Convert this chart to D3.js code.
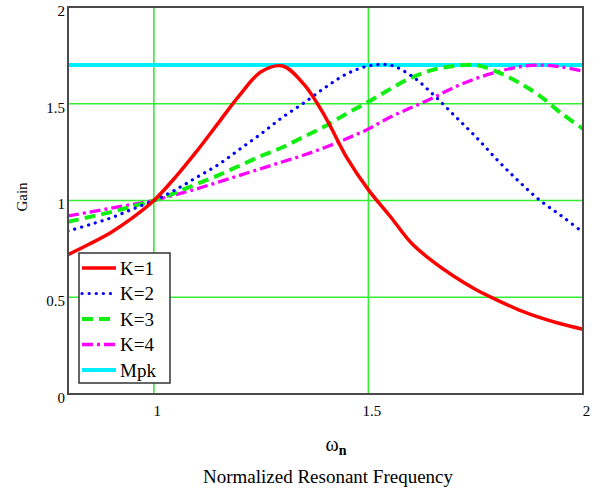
<!DOCTYPE html>
<html>
<head>
<meta charset="utf-8">
<script src="https://cdn.jsdelivr.net/npm/d3@7"></script>
<style>
    body { margin: 0; background: #fff; }
    text { font-family: "Liberation Serif", "Times New Roman", serif; fill: #000; }
</style>
</head>
<body>
<svg width="600" height="489"></svg>
<script>
// frequency samples (normalized)
var wn = [0.8, 0.85, 0.9, 0.95, 1.0, 1.05, 1.1, 1.15, 1.2, 1.25, 1.3, 1.35, 1.4, 1.45, 1.5,
          1.55, 1.6, 1.65, 1.7, 1.75, 1.8, 1.85, 1.9, 1.95, 2.0];

// gain
var k1 = [0.72, 0.775, 0.835, 0.91, 1.0, 1.12, 1.255, 1.40, 1.545, 1.665, 1.695, 1.60, 1.43, 1.22, 1.055,
          0.92, 0.78, 0.685, 0.607, 0.54, 0.485, 0.435, 0.395, 0.362, 0.335];
var k2 = [0.842, 0.875, 0.91, 0.955, 1.0, 1.055, 1.12, 1.185, 1.265, 1.345, 1.43, 1.505, 1.585, 1.655, 1.695,
          1.70, 1.645, 1.55, 1.44, 1.33, 1.21, 1.10, 1.0, 0.92, 0.835];
var k3 = [0.89, 0.915, 0.94, 0.97, 1.0, 1.04, 1.085, 1.13, 1.18, 1.23, 1.275, 1.33, 1.385, 1.45, 1.51,
          1.575, 1.635, 1.675, 1.695, 1.70, 1.665, 1.61, 1.54, 1.45, 1.37];
var k4 = [0.92, 0.94, 0.96, 0.98, 1.0, 1.03, 1.06, 1.095, 1.13, 1.165, 1.2, 1.235, 1.275, 1.32, 1.37,
          1.43, 1.48, 1.53, 1.585, 1.63, 1.665, 1.69, 1.70, 1.69, 1.668];
var mpk = 1.7;

var xTicks = [1, 1.5, 2];
var yTicks = [0, 0.5, 1, 1.5, 2];
var legendNames = ["K=1", "K=2", "K=3", "K=4", "Mpk"];

var serif = "'Liberation Serif', 'Times New Roman', serif";

var svg = d3.select("svg"),
    margin = {top: 7, right: 17, bottom: 95, left: 68},
    width = +svg.attr("width") - margin.left - margin.right,
    height = +svg.attr("height") - margin.top - margin.bottom;

var x = d3.scaleLinear().domain([0.8, 2]).range([0, width]);
var y = d3.scaleLinear().domain([0, 2]).range([height, 0]);

var g = svg.append("g")
    .attr("transform", "translate(" + margin.left + "," + margin.top + ")");

// green grid
g.append("g")
    .selectAll("line.vg")
    .data([1, 1.5])
    .enter().append("line")
    .attr("x1", function (d) { return x(d); })
    .attr("x2", function (d) { return x(d); })
    .attr("y1", 0).attr("y2", height)
    .attr("stroke", "#33ee33").attr("stroke-width", 1.6);

g.append("g")
    .selectAll("line.hg")
    .data([0.5, 1, 1.5])
    .enter().append("line")
    .attr("y1", function (d) { return y(d); })
    .attr("y2", function (d) { return y(d); })
    .attr("x1", 0).attr("x2", width)
    .attr("stroke", "#33ee33").attr("stroke-width", 1.6);

// axes (labels only)
var xAxis = g.append("g")
    .attr("transform", "translate(0," + height + ")")
    .call(d3.axisBottom(x).tickValues(xTicks).tickSize(0).tickPadding(11)
        .tickFormat(function (d) { return d; }));
xAxis.select(".domain").remove();
xAxis.selectAll("text").attr("font-size", 15).attr("dx", 3)
    .style("font-family", serif);

var yAxis = g.append("g")
    .call(d3.axisLeft(y).tickValues(yTicks).tickSize(0).tickPadding(3)
        .tickFormat(function (d) { return d; }));
yAxis.select(".domain").remove();
yAxis.selectAll("text").attr("font-size", 15).attr("dy", "0.55em")
    .style("font-family", serif);

var line = d3.line()
    .x(function (d) { return x(d[0]); })
    .y(function (d) { return y(d[1]); })
    .curve(d3.curveCatmullRom);

var series = [
    {name: "K=1", vals: k1, color: "#ff0000", w: 3.5, dash: null, cap: "butt"},
    {name: "K=2", vals: k2, color: "#0000ff", w: 3.2, dash: "0.1,7", cap: "round"},
    {name: "K=3", vals: k3, color: "#11ee11", w: 4, dash: "11,6", cap: "butt"},
    {name: "K=4", vals: k4, color: "#ff00ff", w: 3.3, dash: "11,4,3,4", cap: "butt"}
];

g.append("clipPath").attr("id", "clip")
    .append("rect").attr("width", width).attr("height", height);

var plot = g.append("g").attr("clip-path", "url(#clip)");

// Mpk line
plot.append("line")
    .attr("x1", x(0.8)).attr("x2", x(2))
    .attr("y1", y(mpk)).attr("y2", y(mpk))
    .attr("stroke", "#00eeff").attr("stroke-width", 4);

series.slice().reverse().forEach(function (s) {
    plot.append("path")
        .datum(wn.map(function (w, i) { return [w, s.vals[i]]; }))
        .attr("fill", "none")
        .attr("stroke", s.color)
        .attr("stroke-width", s.w)
        .attr("stroke-linecap", s.cap)
        .attr("stroke-dasharray", s.dash)
        .attr("d", line);
});

// frame
g.append("rect")
    .attr("width", width).attr("height", height)
    .attr("fill", "none").attr("stroke", "#4a4a4a").attr("stroke-width", 2);

// legend
var leg = g.append("g").attr("transform", "translate(11,246)");
leg.append("rect")
    .attr("width", 91).attr("height", 130)
    .attr("fill", "#fff").attr("stroke", "#333").attr("stroke-width", 1.5);

var legItems = series.concat([{name: "Mpk", color: "#00eeff", w: 4, dash: null, cap: "butt"}]);
legItems.forEach(function (s, i) {
    var yy = 15 + i * 25.5;
    leg.append("line")
        .attr("x1", 3).attr("x2", 37)
        .attr("y1", yy).attr("y2", yy)
        .attr("stroke", s.color).attr("stroke-width", s.w)
        .attr("stroke-linecap", s.cap)
        .attr("stroke-dasharray", s.dash);
    leg.append("text")
        .attr("x", 41).attr("y", yy).attr("dy", "0.35em")
        .attr("font-size", 19)
        .style("font-family", serif)
        .text(legendNames[i]);
});

// axis titles
svg.append("text")
    .attr("transform", "translate(27,197) rotate(-90)")
    .attr("text-anchor", "middle")
    .attr("font-size", 15)
    .style("font-family", serif)
    .text("Gain");

var wt = svg.append("text")
    .attr("x", 336).attr("y", 451)
    .attr("text-anchor", "middle")
    .attr("font-size", 20)
    .style("font-family", serif);
wt.append("tspan").text("ω");
wt.append("tspan").attr("font-size", 14).attr("dy", 4).attr("font-weight", "bold").text("n");

svg.append("text")
    .attr("x", 328).attr("y", 483)
    .attr("text-anchor", "middle")
    .attr("font-size", 19)
    .style("font-family", serif)
    .text("Normalized Resonant Frequency");
</script>
</body>
</html>
